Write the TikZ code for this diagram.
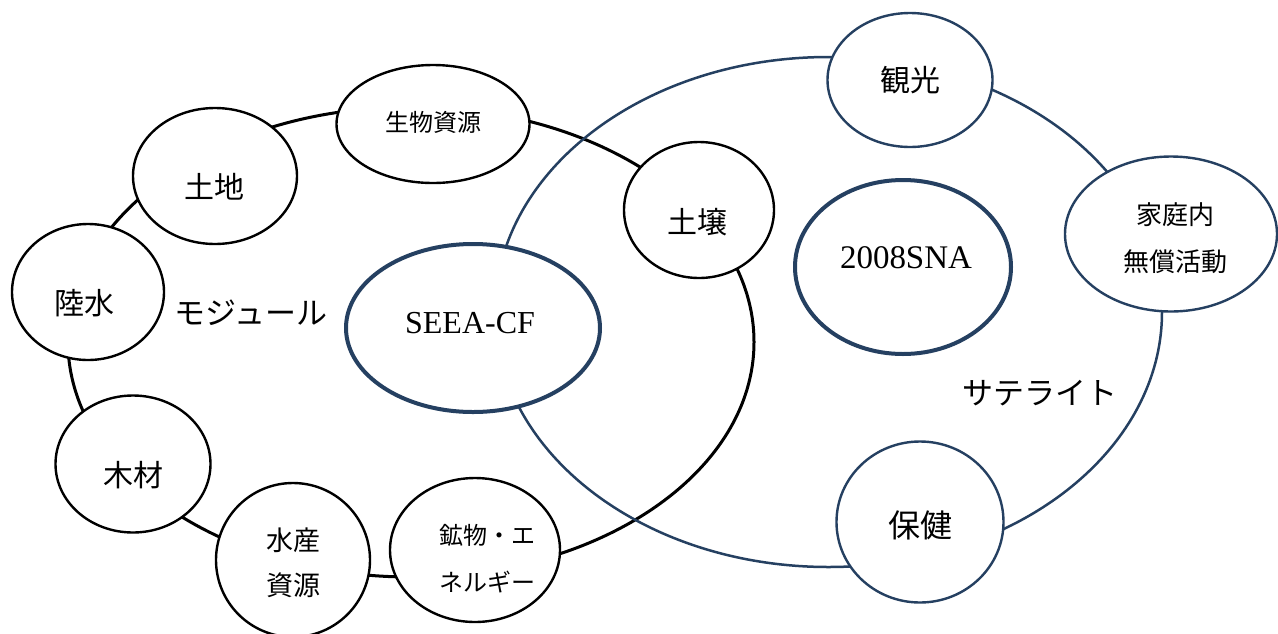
\documentclass[tikz,border=0pt]{standalone}
\usepackage{fontspec}
\setmainfont{Liberation Serif}
\newfontfamily\jp{Noto Sans CJK JP}
\usetikzlibrary{shapes.geometric}
\definecolor{navy}{RGB}{37,64,97}
\begin{document}
\begin{tikzpicture}[x=1pt,y=-1pt,
  ell/.style={ellipse,inner sep=0pt,fill=white},
  mod/.style={ell,draw=black,line width=2.4pt},
  sat/.style={ell,draw=navy,line width=2.4pt},
  core/.style={ell,draw=navy,line width=4pt},
  jt/.style={font=\jp\fontsize{#1}{#1}\selectfont,inner sep=0pt},
  lt/.style={font=\fontsize{#1}{#1}\selectfont,inner sep=0pt},
]
\useasboundingbox[fill=white] (0,0) rectangle (1278,633);
% big ellipses
\draw[line width=3pt] (411,342) ellipse [x radius=343pt, y radius=235pt];
\draw[navy,line width=2.5pt] (828.5,312) ellipse [x radius=333.5pt, y radius=255pt];
% core
\node[core,minimum width=254pt,minimum height=168pt] (seea) at (473,328) {};
\node[core,minimum width=216pt,minimum height=174pt] (sna) at (903,267) {};
\node[lt=32] (tseea) at (470,323) {SEEA-CF};
\node[lt=33] (tsna) at (906,258) {2008SNA};
% modules
\node[mod,minimum width=193pt,minimum height=118pt] (bio) at (433,124) {};
\node[mod,minimum width=164pt,minimum height=136pt] (land) at (215,176) {};
\node[mod,minimum width=152pt,minimum height=136pt] (water) at (88,292) {};
\node[mod,minimum width=155pt,minimum height=137pt] (wood) at (133,464) {};
\node[mod,minimum width=154pt,minimum height=154pt] (aqua) at (293,560) {};
\node[mod,minimum width=170pt,minimum height=144pt] (min) at (475,550) {};
\node[mod,minimum width=150pt,minimum height=136pt] (soil) at (699,210) {};
% satellites
\node[sat,minimum width=165pt,minimum height=134pt] (tour) at (910,80) {};
\node[sat,minimum width=212pt,minimum height=155pt] (home) at (1171,234) {};
\node[sat,minimum width=167pt,minimum height=161pt] (health) at (920,522) {};
% labels
\node[jt=24] (tbio) at (433,122) {生物資源};
\node[jt=30] (tland) at (214,187) {土地};
\node[jt=30] (twater) at (84,303) {陸水};
\node[jt=30] (twood) at (133,475) {木材};
\node[jt=27] (taqua1) at (293,540) {水産};
\node[jt=27] (taqua2) at (293,585) {資源};
\node[jt=24] (tmin1) at (487,535) {鉱物・エ};
\node[jt=24] (tmin2) at (487,582) {ネルギー};
\node[jt=30] (tsoil) at (697,222) {土壌};
\node[jt=30] (ttour) at (910,80) {観光};
\node[jt=26] (thome1) at (1175,215) {家庭内};
\node[jt=26] (thome2) at (1175,262) {無償活動};
\node[jt=32] (thealth) at (920,525) {保健};
\node[jt=31] (tmodule) at (251,313) {モジュール};
\node[jt=31] (tsat) at (1040,393) {サテライト};
\end{tikzpicture}
\end{document}
